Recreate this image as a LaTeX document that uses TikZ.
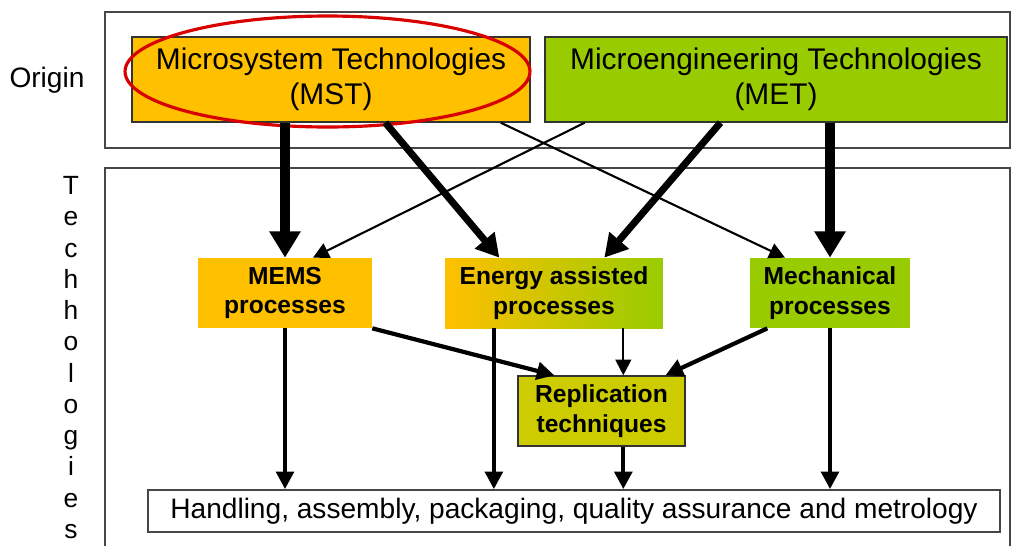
\documentclass[tikz,border=0pt]{standalone}
\usepackage{fontspec}
\setmainfont{Liberation Sans}
\usetikzlibrary{arrows.meta,calc}

\definecolor{mstorange}{RGB}{255,192,0}
\definecolor{metgreen}{RGB}{153,204,0}
\definecolor{replolive}{RGB}{204,204,0}
\definecolor{framegray}{RGB}{70,70,70}

\tikzset{
    origbox/.style={draw=black!80, line width=0.8pt, minimum height=1.7cm, inner sep=0pt,
        align=center, font=\fontsize{17}{20}\selectfont},
    procbox/.style={minimum height=1.4cm, inner sep=0pt, align=center,
        font=\fontsize{14}{17}\selectfont\bfseries},
    arrbig/.style={line width=5.5pt, -{Triangle[length=15pt,width=17pt]}},
    arrthick/.style={line width=4pt, -{Triangle[length=13pt,width=14pt]}},
    arrmed/.style={line width=2.4pt, -{Triangle[length=10pt,width=10pt]}},
    arrthin/.style={line width=1.2pt, -{Triangle[length=9pt,width=9pt]}},
}

\begin{document}
\begin{tikzpicture}[x=0.02cm,y=-0.02cm]
    \useasboundingbox (0,0) rectangle (1020,545);

    % frames
    \draw[framegray, line width=1pt] (105,12) rectangle (1010,148);
    \draw[framegray, line width=1pt] (105,168) rectangle (1010,560);
    \node[font=\fontsize{16}{18}\selectfont] (origin) at (47,80) {Origin};
    \node[anchor=north, inner sep=0pt, align=center, font=\fontsize{15}{17.8}\selectfont] (techn) at (71,176)
        {T\\e\\c\\h\\h\\o\\l\\o\\g\\i\\e\\s};

    % origin boxes
    \node[origbox, fill=mstorange, minimum width=7.96cm] (mst) at (331,79.5)
        {Microsystem Technologies\\(MST)};
    \node[origbox, fill=metgreen, minimum width=9.24cm] (met) at (776,79.5)
        {Microengineering Technologies\\(MET)};
    \draw[red!85!black, line width=1.8pt] (327.5,71.5) ellipse [x radius=4.05cm, y radius=1.11cm];

    % process boxes
    \node[procbox, fill=mstorange, minimum width=3.48cm] (mems) at (285,293) {MEMS\\processes};
    \node[procbox, left color=mstorange, right color=metgreen, minimum width=4.36cm] (energy) at (554,293)
        {Energy assisted\\processes};
    \node[procbox, fill=metgreen, minimum width=3.2cm] (mech) at (830,293) {Mechanical\\processes};
    \node[procbox, draw=black!80, line width=0.8pt, fill=replolive, minimum width=3.34cm] (repl) at (601.5,411)
        {Replication\\techniques};
    \node[draw=framegray, line width=1pt, fill=white, minimum width=17.04cm, minimum height=0.84cm,
        inner sep=0pt, font=\fontsize{16}{18}\selectfont] (handl) at (574,511)
        {Handling, assembly, packaging, quality assurance and metrology};

    % origin to processes
    \draw[arrbig] (mst.south -| mems.north) -- (mems.north);
    \draw[arrthick] ($(mst.south west)!0.636!(mst.south east)$) -- ($(energy.north west)!0.25!(energy.north east)$);
    \draw[arrthin] ($(mst.south west)!0.925!(mst.south east)$) -- ($(mech.north west)!0.22!(mech.north east)$);
    \draw[arrthin] ($(met.south west)!0.087!(met.south east)$) -- ($(mems.north west)!0.66!(mems.north east)$);
    \draw[arrthick] ($(met.south west)!0.38!(met.south east)$) -- ($(energy.north west)!0.73!(energy.north east)$);
    \draw[arrbig] (mech.north |- met.south) -- (mech.north);

    % processes to replication and handling
    \draw[arrmed] (mems.south) -- (mems.south |- handl.north);
    \draw[arrmed] ($(energy.south west)!0.225!(energy.south east)$) coordinate (ensw) -- (ensw |- handl.north);
    \draw[arrthin] ($(energy.south west)!0.817!(energy.south east)$) coordinate (ense) -- (ense |- repl.north);
    \draw[arrmed] (ense |- repl.south) -- (ense |- handl.north);
    \draw[arrmed] (mech.south) -- (mech.south |- handl.north);
    \draw[arrmed] (mems.south east) -- ($(repl.north west)!0.22!(repl.north east)$);
    \draw[arrmed] ($(mech.south west)!0.11!(mech.south east)$) -- ($(repl.north west)!0.88!(repl.north east)$);
\end{tikzpicture}
\end{document}
